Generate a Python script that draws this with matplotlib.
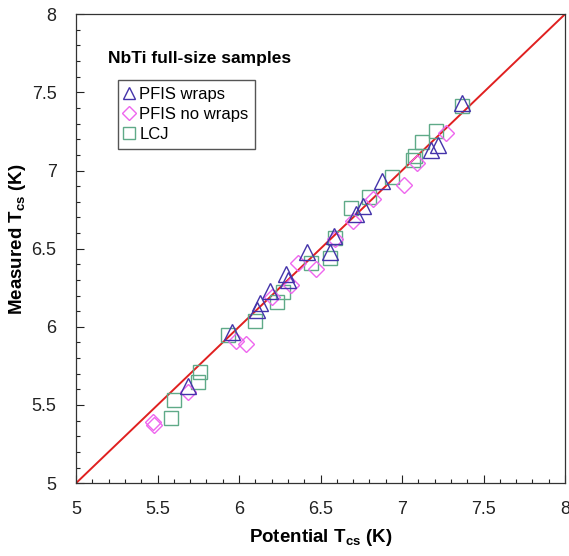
import matplotlib
matplotlib.use("Agg")
import matplotlib.pyplot as plt
from matplotlib.ticker import MultipleLocator

plt.rcParams['font.family'] = ['Liberation Sans', 'DejaVu Sans']

# PFIS wraps (triangles)
wraps_x = [5.69, 5.96, 6.11, 6.13, 6.19, 6.29, 6.30, 6.42, 6.56, 6.58, 6.72, 6.76, 6.88, 7.18, 7.22, 7.37]
wraps_y = [5.62, 5.97, 6.11, 6.15, 6.23, 6.34, 6.30, 6.48, 6.48, 6.58, 6.72, 6.77, 6.93, 7.13, 7.16, 7.43]

# PFIS no wraps (diamonds)
nowr_x = [5.47, 5.48, 5.69, 5.98, 6.04, 6.20, 6.32, 6.36, 6.47, 6.59, 6.70, 6.82, 7.01, 7.09, 7.27]
nowr_y = [5.39, 5.37, 5.58, 5.91, 5.89, 6.19, 6.27, 6.41, 6.37, 6.56, 6.68, 6.82, 6.91, 7.05, 7.24]

# LCJ (squares)
lcj_x = [5.58, 5.60, 5.75, 5.76, 5.93, 6.10, 6.23, 6.27, 6.44, 6.56, 6.59, 6.69, 6.80, 6.94, 7.07, 7.08, 7.12, 7.21, 7.37]
lcj_y = [5.42, 5.53, 5.65, 5.71, 5.95, 6.04, 6.16, 6.22, 6.41, 6.44, 6.57, 6.76, 6.83, 6.96, 7.07, 7.09, 7.18, 7.25, 7.41]

line_x = [5, 8]
line_y = [5, 8]

fig = plt.figure(figsize=(5.69, 5.56), dpi=100)
ax = fig.add_axes([0.1336, 0.131, 0.8594, 0.8435])

ax.plot(line_x, line_y, color='#e02020', lw=1.4, zorder=1)
ax.plot(lcj_x, lcj_y, linestyle='none', marker='s', markersize=10.5, markerfacecolor='none',
        markeredgecolor='#5faa88', markeredgewidth=1.0, label='LCJ', zorder=2)
ax.plot(nowr_x, nowr_y, linestyle='none', marker='D', markersize=8.5, markerfacecolor='none',
        markeredgecolor='#ee66ee', markeredgewidth=1.0, label='PFIS no wraps', zorder=3)
ax.plot(wraps_x, wraps_y, linestyle='none', marker='^', markersize=11, markerfacecolor='none',
        markeredgecolor='#4433aa', markeredgewidth=1.0, label='PFIS wraps', zorder=4)

ax.set_xlim(5, 8)
ax.set_ylim(5, 8)
ax.xaxis.set_major_locator(MultipleLocator(0.5))
ax.yaxis.set_major_locator(MultipleLocator(0.5))
ax.xaxis.set_minor_locator(MultipleLocator(0.1))
ax.yaxis.set_minor_locator(MultipleLocator(0.1))
ax.xaxis.set_major_formatter(matplotlib.ticker.FuncFormatter(lambda v, p: f"{v:g}"))
ax.yaxis.set_major_formatter(matplotlib.ticker.FuncFormatter(lambda v, p: f"{v:g}"))
ax.tick_params(which='both', direction='in', top=False, right=False, labelsize=13, colors='#222222')
ax.tick_params(axis='x', which='major', length=6, width=0.8, pad=13)
ax.tick_params(axis='y', which='major', length=6, width=0.8, pad=14)
ax.tick_params(which='minor', length=3, width=0.8)
for s in ax.spines.values():
    s.set_color('#333333')
    s.set_linewidth(0.9)

ax.set_xlabel(r'Potential T$_{\mathregular{cs}}$ (K)', fontsize=13.5, fontweight='bold', labelpad=6)
ax.set_ylabel(r'Measured T$_{\mathregular{cs}}$ (K)', fontsize=13.5, fontweight='bold')
ax.yaxis.set_label_coords(-0.098, 0.52)

ax.text(0.066, 0.905, 'NbTi full-size samples', transform=ax.transAxes, fontsize=12.5,
        fontweight='bold', va='center', ha='left')

handles, labels = ax.get_legend_handles_labels()
order = [2, 1, 0]
leg = ax.legend([handles[i] for i in order], [labels[i] for i in order],
                loc='upper left', bbox_to_anchor=(0.068, 0.877), fontsize=12,
                frameon=True, fancybox=False, edgecolor='#555555', framealpha=1,
                handlelength=0.6, handletextpad=0.3, borderpad=0.4, labelspacing=0.3,
                markerscale=0.8)
leg.get_frame().set_linewidth(1.0)

fig.savefig('out.png', dpi=100)
